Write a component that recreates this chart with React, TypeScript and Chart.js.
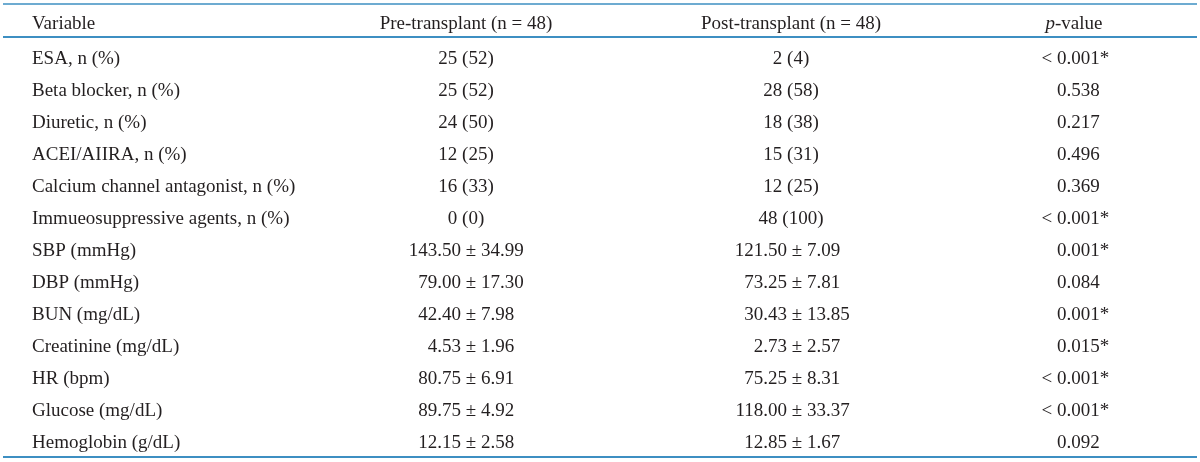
import React, { useEffect, useRef } from "react";
import { Chart, registerables } from "chart.js";

Chart.register(...registerables);

// ---- data ----
const headerVariable = "Variable";
const headerPre = "Pre-transplant (n = 48)";
const headerPost = "Post-transplant (n = 48)";
const headerPItalic = "p";
const headerPRest = "-value";

const variables = [
  "ESA, n (%)",
  "Beta blocker, n (%)",
  "Diuretic, n (%)",
  "ACEI/AIIRA, n (%)",
  "Calcium channel antagonist, n (%)",
  "Immueosuppressive agents, n (%)",
  "SBP (mmHg)",
  "DBP (mmHg)",
  "BUN (mg/dL)",
  "Creatinine (mg/dL)",
  "HR (bpm)",
  "Glucose (mg/dL)",
  "Hemoglobin (g/dL)",
];

const preValues = [
  "25 (52)",
  "25 (52)",
  "24 (50)",
  "12 (25)",
  "16 (33)",
  "0 (0)",
  "143.50 ± 34.99",
  "79.00 ± 17.30",
  "42.40 ± 7.98",
  "4.53 ± 1.96",
  "80.75 ± 6.91",
  "89.75 ± 4.92",
  "12.15 ± 2.58",
];

const postValues = [
  "2 (4)",
  "28 (58)",
  "18 (38)",
  "15 (31)",
  "12 (25)",
  "48 (100)",
  "121.50 ± 7.09",
  "73.25 ± 7.81",
  "30.43 ± 13.85",
  "2.73 ± 2.57",
  "75.25 ± 8.31",
  "118.00 ± 33.37",
  "12.85 ± 1.67",
];

const pValues = [
  "< 0.001*",
  "0.538",
  "0.217",
  "0.496",
  "0.369",
  "< 0.001*",
  "0.001*",
  "0.084",
  "0.001*",
  "0.015*",
  "< 0.001*",
  "< 0.001*",
  "0.092",
];

// ---- layout ----
const W = 1200;
const H = 462;
const ROW0 = 57;
const ROWH = 32;
const Y_MIN = -ROW0 / ROWH;
const Y_MAX = (H - ROW0) / ROWH;
const HEADER_ROW = (22 - ROW0) / ROWH;
const RULES = [
  { v: (4 - ROW0) / ROWH, w: 1.5 },
  { v: (37 - ROW0) / ROWH, w: 2 },
  { v: (457 - ROW0) / ROWH, w: 2 },
];
const RULE_X0 = 3;
const RULE_X1 = 1197;
const COL_VAR = 32;
const COL_PRE = 466;
const COL_PRE_PM = 471;
const COL_POST = 791;
const COL_POST_PM = 797;
const COL_P = 1057;
const COL_P_HEAD = 1074;

const FONT_FAMILY = '"Liberation Serif", "DejaVu Serif", serif';
const FONT_SIZE = 19;
const TEXT_COLOR = "#231f20";
const RULE_COLOR = "#3d8fc2";
const BASELINE_SHIFT = 6.5;

type Kind = "var" | "pre" | "post" | "p";

const columns: { kind: Kind; x: number; texts: string[] }[] = [
  { kind: "var", x: COL_VAR, texts: variables },
  { kind: "pre", x: COL_PRE, texts: preValues },
  { kind: "post", x: COL_POST, texts: postValues },
  { kind: "p", x: COL_P, texts: pValues },
];

const tablePlugin = {
  id: "tableText",
  afterDatasetsDraw(chart: any) {
    const ctx: CanvasRenderingContext2D = chart.ctx;
    const xs = chart.scales.x;
    const ys = chart.scales.y;
    ctx.save();

    // rules
    ctx.strokeStyle = RULE_COLOR;
    RULES.forEach((r) => {
      const y = ys.getPixelForValue(r.v);
      ctx.lineWidth = r.w;
      ctx.beginPath();
      ctx.moveTo(xs.getPixelForValue(RULE_X0), y);
      ctx.lineTo(xs.getPixelForValue(RULE_X1), y);
      ctx.stroke();
    });

    const normal = `${FONT_SIZE}px ${FONT_FAMILY}`;
    const italic = `italic ${FONT_SIZE}px ${FONT_FAMILY}`;
    ctx.fillStyle = TEXT_COLOR;
    ctx.textBaseline = "alphabetic";
    ctx.font = normal;

    // header
    const hy = ys.getPixelForValue(HEADER_ROW) + BASELINE_SHIFT;
    ctx.textAlign = "left";
    ctx.fillText(headerVariable, xs.getPixelForValue(COL_VAR), hy);
    ctx.textAlign = "center";
    ctx.fillText(headerPre, xs.getPixelForValue(COL_PRE), hy);
    ctx.fillText(headerPost, xs.getPixelForValue(COL_POST), hy);
    ctx.font = italic;
    const wp = ctx.measureText(headerPItalic).width;
    ctx.font = normal;
    const wr = ctx.measureText(headerPRest).width;
    const px0 = xs.getPixelForValue(COL_P_HEAD) - (wp + wr) / 2;
    ctx.textAlign = "left";
    ctx.font = italic;
    ctx.fillText(headerPItalic, px0, hy);
    ctx.font = normal;
    ctx.fillText(headerPRest, px0 + wp, hy);

    // body cells drawn at dataset element positions
    chart.data.datasets.forEach((ds: any, di: number) => {
      const meta = chart.getDatasetMeta(di);
      const kind: Kind = ds.kind;
      meta.data.forEach((el: any, i: number) => {
        const t: string = ds.texts[i];
        const x = el.x;
        const y = el.y + BASELINE_SHIFT;
        ctx.font = normal;
        if (kind === "var") {
          ctx.textAlign = "left";
          ctx.fillText(t, x, y);
        } else if (kind === "pre" || kind === "post") {
          if (t.includes("±")) {
            const [a, b] = t.split(" ± ");
            const pm = x + (kind === "pre" ? COL_PRE_PM - COL_PRE : COL_POST_PM - COL_POST);
            const gap = ctx.measureText(" ").width;
            const pmw = ctx.measureText("±").width;
            ctx.textAlign = "center";
            ctx.fillText("±", pm, y);
            ctx.textAlign = "right";
            ctx.fillText(a, pm - pmw / 2 - gap, y);
            ctx.textAlign = "left";
            ctx.fillText(b, pm + pmw / 2 + gap, y);
          } else {
            ctx.textAlign = "center";
            ctx.fillText(t, x, y);
          }
        } else {
          if (t.startsWith("< ")) {
            ctx.textAlign = "right";
            ctx.fillText("< ", x, y);
            ctx.textAlign = "left";
            ctx.fillText(t.slice(2), x, y);
          } else {
            ctx.textAlign = "left";
            ctx.fillText(t, x, y);
          }
        }
      });
    });
    ctx.restore();
  },
};

export default function App() {
  const ref = useRef<HTMLCanvasElement | null>(null);
  useEffect(() => {
    document.body.style.margin = "0";
    const canvas = ref.current;
    if (!canvas) return;
    const chart = new Chart(canvas, {
      type: "scatter",
      data: {
        datasets: columns.map((c) => ({
          label: c.kind,
          kind: c.kind,
          texts: c.texts,
          data: c.texts.map((_, i) => ({ x: c.x, y: i })),
          pointRadius: 0,
          pointHoverRadius: 0,
        })) as any,
      },
      options: {
        animation: false,
        responsive: false,
        maintainAspectRatio: false,
        devicePixelRatio: 1,
        layout: { padding: 0 },
        events: [],
        scales: {
          x: { type: "linear", min: 0, max: W, display: false },
          y: { type: "linear", min: Y_MIN, max: Y_MAX, reverse: true, display: false },
        },
        plugins: {
          legend: { display: false },
          tooltip: { enabled: false },
        },
      },
      plugins: [tablePlugin],
    });
    return () => chart.destroy();
  }, []);
  return (
    <div style={{ width: W, height: H, background: "#fff" }}>
      <canvas ref={ref} width={W} height={H} style={{ display: "block", width: W, height: H }} />
    </div>
  );
}
